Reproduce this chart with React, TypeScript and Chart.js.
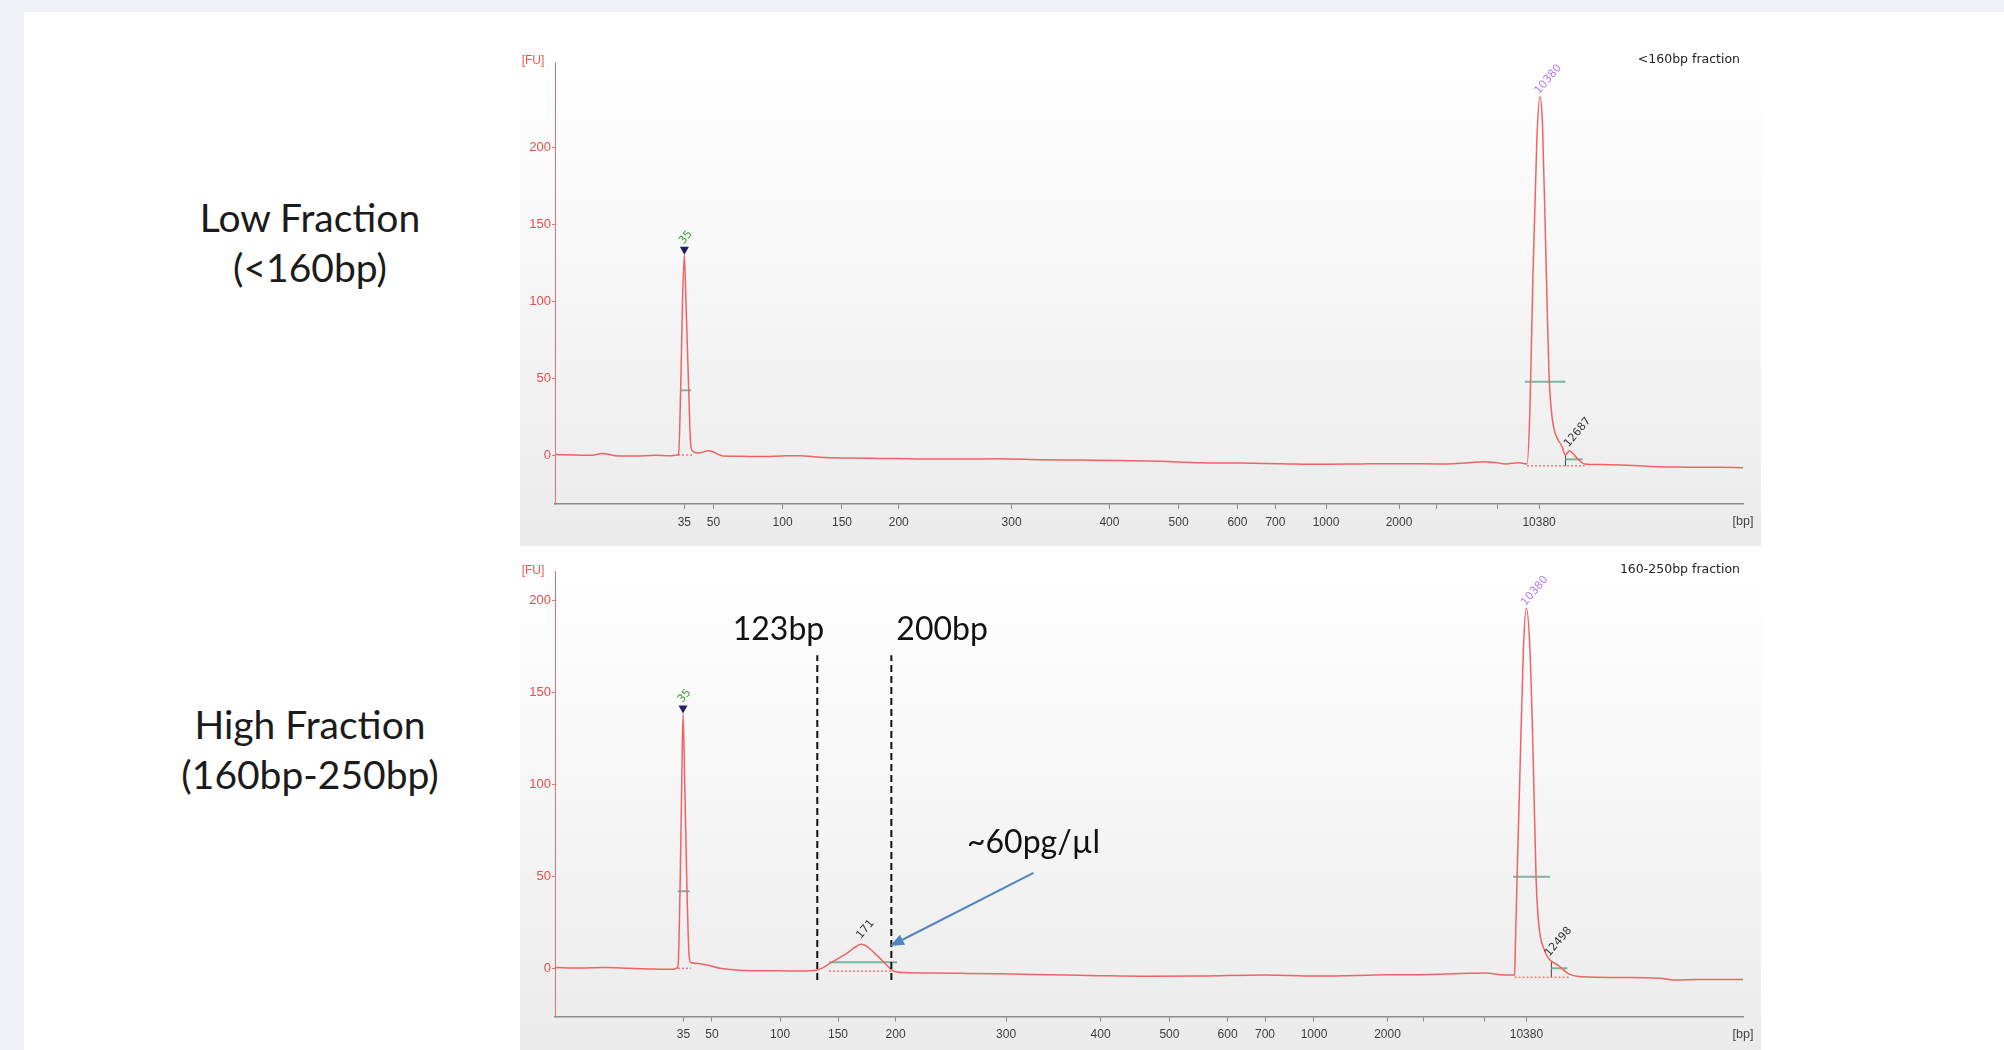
import React, { useEffect, useRef } from "react";
import { Chart, registerables } from "chart.js";

Chart.register(...registerables);

// ---------------- data ----------------
// Ladder (bp) shown on the x axis, placed at their migration times (s)
const LADDER_LABELS = ["35", "50", "100", "150", "200", "300", "400", "500", "600", "700", "1000", "2000", "", "", "10380"];
const LADDER_TIME_LOW = [49.8, 52.0, 57.24, 61.74, 66.04, 74.59, 82.0, 87.24, 91.7, 94.58, 98.41, 103.94, 106.78, 111.42, 114.55];
const LADDER_TIME_HIGH = [49.73, 51.89, 57.05, 61.44, 65.8, 74.17, 81.33, 86.55, 90.95, 93.79, 97.5, 103.07, 105.83, 110.38, 113.59];
const FU_TICKS = [0, 50, 100, 150, 200];

// Low fraction trace (time s, fluorescence FU)
const TIME_LOW = [40.0, 41.52, 42.65, 43.64, 44.55, 46.06, 47.58, 48.71, 49.24, 49.36, 49.52, 49.66, 49.8, 49.92, 50.13, 50.27, 50.38, 50.83, 51.67, 52.73, 54.02, 55.53, 57.2, 58.56, 60.08, 62.35, 64.62, 67.65, 70.68, 73.71, 76.74, 79.77, 82.8, 85.83, 88.86, 91.89, 94.92, 98.41, 100.98, 104.02, 107.05, 109.32, 110.3, 111.21, 112.05, 112.95, 113.64, 113.86, 114.09, 114.38, 114.61, 114.81, 115.1, 115.3, 115.49, 115.68, 115.98, 116.27, 116.55, 116.84, 117.12, 117.42, 118.0, 119.17, 120.76, 122.2, 123.64, 125.23, 126.52, 128.26, 130.0];
const FU_LOW = [0.3, 0.0, -0.2, 1.0, -0.4, -0.6, -0.2, -0.5, 0.0, 0.5, 42, 100, 130, 100, 42, 8, 3, 1.3, 2.8, -0.6, -0.8, -1.0, -0.6, -0.4, -1.5, -2.0, -2.2, -2.5, -2.6, -2.4, -3.0, -3.3, -3.6, -4.0, -5.0, -5.2, -5.6, -6.0, -5.8, -5.6, -5.8, -5.0, -4.3, -4.8, -5.8, -5.0, -5.8, 30, 118, 204, 232.7, 215, 118, 53, 28, 17, 10, 6, 0.0, 2.8, 1, -2, -5.8, -6.2, -6.5, -7.0, -7.6, -7.8, -8.0, -8.0, -8.2];

// High fraction trace
const TIME_HIGH = [40.0, 41.89, 43.79, 45.64, 47.2, 49.02, 49.17, 49.32, 49.47, 49.6, 49.7, 49.83, 50.0, 50.15, 50.3, 50.76, 51.52, 52.5, 54.02, 56.29, 58.56, 59.85, 60.83, 62.1, 63.23, 64.37, 65.38, 65.61, 66.52, 68.41, 70.68, 73.71, 77.5, 81.29, 85.08, 88.86, 93.79, 97.58, 103.07, 106.26, 109.17, 110.38, 112.05, 112.7, 112.75, 112.87, 113.08, 113.36, 113.59, 113.86, 114.09, 114.32, 114.52, 114.95, 115.39, 115.97, 116.84, 117.86, 120.76, 123.65, 125.08, 126.55, 130.0];
const FU_HIGH = [0.5, 0.2, 0.4, 0.0, -0.3, -0.5, 0.0, 1.0, 42, 100, 138.7, 100, 42, 8, 3, 2.7, 1.8, 0.0, -1.0, -1.3, -1.5, -0.9, 2.7, 8.2, 13.1, 7.2, 0.0, -1.3, -2.3, -2.5, -2.7, -3.0, -3.5, -4.0, -4.3, -4.2, -3.6, -4.2, -3.5, -3.3, -2.7, -2.5, -3.6, -3.6, 10, 46, 100.6, 173, 195.9, 173, 118.8, 49.8, 24.5, 10, 4.5, 1.8, -3.1, -4.6, -5.0, -5.4, -6.4, -6.0, -6.0];

// Peaks
const PEAK_TIME_LOW = [49.8, 114.61, 116.84];
const PEAK_FU_LOW = [130, 232.7, 2.8];
const PEAK_NAME_LOW = ["35", "10380", "12687"];
const PEAK_KIND_LOW = ["lower", "upper", "sample"];

const PEAK_TIME_HIGH = [49.7, 63.23, 113.59, 115.39];
const PEAK_FU_HIGH = [138.7, 13.1, 195.9, 4.5];
const PEAK_NAME_HIGH = ["35", "171", "10380", "12498"];
const PEAK_KIND_HIGH = ["lower", "sample", "upper", "sample"];

// Peak width bars (start time, end time, FU)
const WIDTH_START_LOW = [49.47, 113.48, 116.55];
const WIDTH_END_LOW = [50.3, 116.55, 117.86];
const WIDTH_FU_LOW = [42, 47.6, -2.8];
const WIDTH_START_HIGH = [49.3, 60.76, 112.58, 115.48];
const WIDTH_END_HIGH = [50.2, 65.91, 115.38, 116.7];
const WIDTH_FU_HIGH = [42, 3.3, 49.8, 0.0];

// Integration baselines
const BASE_START_LOW = [49.32, 113.64];
const BASE_END_LOW = [50.38, 118.0];
const BASE_FU_LOW = [0, -7.0];
const BASE_START_HIGH = [49.32, 60.76, 112.7];
const BASE_END_HIGH = [50.3, 65.61, 116.84];
const BASE_FU_HIGH = [0, -1.5, -4.9];

// Peak split lines
const SPLIT_TIME_LOW = [116.55];
const SPLIT_FROM_LOW = [-7.0];
const SPLIT_TO_LOW = [0.0];
const SPLIT_TIME_HIGH = [115.48];
const SPLIT_FROM_HIGH = [-4.9];
const SPLIT_TO_HIGH = [3.9];

// Size-selection gates on the high fraction
const GATE_TIME = [59.87, 65.48];
const GATE_LABEL = ["123bp", "200bp"];
const GATE_FU_FROM = -6.4;
const GATE_FU_TO = 170.4;
const GATE_LABEL_FU = 184;

const NOTE_TEXT = "~60pg/µl";
const NOTE_TIME = 76.25;
const NOTE_FU = 68.2;
const ARROW_FROM_TIME = 76.25;
const ARROW_FROM_FU = 52.0;
const ARROW_TO_TIME = 65.38;
const ARROW_TO_FU = 12.1;

// ---------------- drawing ----------------
const TRACE = "rgb(241,98,98)";
const AXIS_RED = "rgb(242,110,110)";
const SMALL_FONT = "'Liberation Sans', Arial, sans-serif";

type Spec = {
  title: string;
  time: number[];
  fu: number[];
  ladder: number[];
  yMin: number;
  yMax: number;
  padTop: number;
  xHeight: number;
  peakT: number[];
  peakF: number[];
  peakN: string[];
  peakK: string[];
  wS: number[];
  wE: number[];
  wF: number[];
  bS: number[];
  bE: number[];
  bF: number[];
  sT: number[];
  sFrom: number[];
  sTo: number[];
  gates: boolean;
};

function seg(x0: number, x1: number, y0: number, y1: number, color: string, width: number, dash: number[] = []) {
  return {
    type: "line" as const,
    data: [
      { x: x0, y: y0 },
      { x: x1, y: y1 },
    ],
    borderColor: color,
    borderWidth: width,
    borderDash: dash,
    pointRadius: 0,
    tension: 0,
  };
}

function makePlugin(spec: Spec) {
  return {
    id: "decor",
    beforeDraw(chart: any) {
      const { ctx, width, height } = chart;
      const g = ctx.createLinearGradient(0, 0, 0, height);
      g.addColorStop(0, "#ffffff");
      g.addColorStop(0.35, "#f9f9f9");
      g.addColorStop(1, "#ebebeb");
      ctx.save();
      ctx.fillStyle = g;
      ctx.fillRect(0, 0, width, height);
      ctx.restore();
    },
    afterDatasetsDraw(chart: any) {
      const { ctx, chartArea } = chart;
      const xs = chart.scales.x;
      const ys = chart.scales.y;
      ctx.save();
      // axis units and title
      ctx.font = `12px ${SMALL_FONT}`;
      ctx.textBaseline = "middle";
      ctx.fillStyle = "rgb(235,85,85)";
      ctx.textAlign = "center";
      ctx.fillText("[FU]", chartArea.left - 22, chartArea.top - 1);
      ctx.fillStyle = "#444";
      ctx.font = `12.5px ${SMALL_FONT}`;
      ctx.fillText("[bp]", chartArea.right, chartArea.bottom + 18);
      ctx.textAlign = "right";
      ctx.fillStyle = "#222";
      ctx.font = `12.5px 'DejaVu Sans', sans-serif`;
      ctx.fillText(spec.title, chartArea.right - 3, chartArea.top - 2);

      // peak labels
      spec.peakT.forEach((t, i) => {
        const px = xs.getPixelForValue(t);
        const py = ys.getPixelForValue(spec.peakF[i]);
        const kind = spec.peakK[i];
        let color = "#333";
        let lift = 5;
        if (kind === "lower") {
          ctx.fillStyle = "#1d1f6e";
          ctx.beginPath();
          ctx.moveTo(px - 4.5, py - 8);
          ctx.lineTo(px + 4.5, py - 8);
          ctx.lineTo(px, py);
          ctx.closePath();
          ctx.fill();
          color = "#3c9c3c";
          lift = 12;
        } else if (kind === "upper") {
          color = "#b27cf2";
          lift = 4;
        } else if (spec.peakN[i] === "171") {
          lift = 7;
        }
        ctx.save();
        ctx.translate(px - 3, py - lift);
        ctx.rotate(-Math.PI / 4 - 0.08);
        ctx.font = `11px 'DejaVu Sans', sans-serif`;
        ctx.fillStyle = color;
        ctx.textAlign = "left";
        ctx.textBaseline = "middle";
        ctx.fillText(spec.peakN[i], 0, 0);
        ctx.restore();
      });

      if (spec.gates) {
        ctx.font = "32px Lato, 'Open Sans', sans-serif";
        ctx.fillStyle = "#111";
        ctx.textBaseline = "middle";
        GATE_TIME.forEach((t, i) => {
          const gx = xs.getPixelForValue(t);
          const gy = ys.getPixelForValue(GATE_LABEL_FU);
          if (i === 0) {
            ctx.textAlign = "right";
            ctx.fillText(GATE_LABEL[i], gx + 7, gy);
          } else {
            ctx.textAlign = "left";
            ctx.fillText(GATE_LABEL[i], gx + 5, gy);
          }
        });
        ctx.textAlign = "center";
        ctx.fillText(NOTE_TEXT, xs.getPixelForValue(NOTE_TIME), ys.getPixelForValue(NOTE_FU));

        // arrow
        const ax0 = xs.getPixelForValue(ARROW_FROM_TIME);
        const ay0 = ys.getPixelForValue(ARROW_FROM_FU);
        const ax1 = xs.getPixelForValue(ARROW_TO_TIME);
        const ay1 = ys.getPixelForValue(ARROW_TO_FU);
        const ang = Math.atan2(ay1 - ay0, ax1 - ax0);
        const head = 14;
        const bx = ax1 - Math.cos(ang) * head;
        const by = ay1 - Math.sin(ang) * head;
        ctx.strokeStyle = "#5384c0";
        ctx.fillStyle = "#5384c0";
        ctx.lineWidth = 2;
        ctx.beginPath();
        ctx.moveTo(ax0, ay0);
        ctx.lineTo(bx, by);
        ctx.stroke();
        ctx.beginPath();
        ctx.moveTo(ax1, ay1);
        ctx.lineTo(bx + Math.sin(ang) * 5.5, by - Math.cos(ang) * 5.5);
        ctx.lineTo(bx - Math.sin(ang) * 5.5, by + Math.cos(ang) * 5.5);
        ctx.closePath();
        ctx.fill();
      }
      ctx.restore();
    },
  };
}

function Panel({ spec, left, top, width, height }: { spec: Spec; left: number; top: number; width: number; height: number }) {
  const ref = useRef<HTMLCanvasElement | null>(null);
  useEffect(() => {
    if (!ref.current) return;
    const datasets: any[] = [];
    if (spec.gates) {
      GATE_TIME.forEach((t) => datasets.push(seg(t, t, GATE_FU_FROM, GATE_FU_TO, "#111", 2, [7, 4])));
    }
    datasets.push({
      type: "line",
      data: spec.time.map((t, i) => ({ x: t, y: spec.fu[i] })),
      borderColor: TRACE,
      borderWidth: 1.5,
      pointRadius: 0,
      cubicInterpolationMode: "monotone",
    });
    spec.wS.forEach((s, i) => datasets.push(seg(s, spec.wE[i], spec.wF[i], spec.wF[i], "rgba(110,175,150,0.9)", 2)));
    spec.bS.forEach((s, i) => datasets.push(seg(s, spec.bE[i], spec.bF[i], spec.bF[i], "rgba(240,110,110,0.9)", 1.5, [2, 2])));
    spec.sT.forEach((t, i) => datasets.push(seg(t, t, spec.sFrom[i], spec.sTo[i], "#444", 1)));

    const chart = new Chart(ref.current, {
      type: "line",
      data: { datasets },
      plugins: [makePlugin(spec)],
      options: {
        responsive: false,
        animation: false,
        events: [],
        layout: { padding: { left: 0, right: 18, top: spec.padTop, bottom: 0 } },
        plugins: { legend: { display: false }, tooltip: { enabled: false } },
        scales: {
          x: {
            type: "linear",
            min: 40,
            max: 130,
            afterBuildTicks: (s: any) => {
              s.ticks = spec.ladder.map((v) => ({ value: v }));
            },
            afterFit: (s: any) => {
              s.height = spec.xHeight;
            },
            ticks: {
              autoSkip: false,
              maxRotation: 0,
              minRotation: 0,
              padding: 6,
              color: "#3c3c3c",
              font: { size: 12, family: SMALL_FONT },
              callback: (_v: any, i: number) => LADDER_LABELS[i],
            },
            grid: { drawOnChartArea: false, drawTicks: true, tickLength: 5, color: "#8c8c8c" },
            border: { display: true, color: "#8c8c8c", width: 1.5 },
          },
          y: {
            type: "linear",
            min: spec.yMin,
            max: spec.yMax,
            afterBuildTicks: (s: any) => {
              s.ticks = FU_TICKS.map((v) => ({ value: v }));
            },
            afterFit: (s: any) => {
              s.width = 35;
            },
            ticks: {
              padding: 1,
              color: "rgb(232,75,75)",
              font: { size: 13, family: SMALL_FONT },
            },
            grid: { drawOnChartArea: false, drawTicks: true, tickLength: 3, color: AXIS_RED },
            border: { display: true, color: AXIS_RED, width: 1 },
          },
        },
      } as any,
    });
    return () => chart.destroy();
  }, [spec]);
  return (
    <canvas
      ref={ref}
      width={width}
      height={height}
      style={{ position: "absolute", left, top, width, height }}
    />
  );
}

const LOW_SPEC: Spec = {
  title: "<160bp fraction",
  time: TIME_LOW,
  fu: FU_LOW,
  ladder: LADDER_TIME_LOW,
  yMin: -31.8,
  yMax: 255.2,
  padTop: 13,
  xHeight: 42,
  peakT: PEAK_TIME_LOW,
  peakF: PEAK_FU_LOW,
  peakN: PEAK_NAME_LOW,
  peakK: PEAK_KIND_LOW,
  wS: WIDTH_START_LOW,
  wE: WIDTH_END_LOW,
  wF: WIDTH_FU_LOW,
  bS: BASE_START_LOW,
  bE: BASE_END_LOW,
  bF: BASE_FU_LOW,
  sT: SPLIT_TIME_LOW,
  sFrom: SPLIT_FROM_LOW,
  sTo: SPLIT_TO_LOW,
  gates: false,
};

const HIGH_SPEC: Spec = {
  title: "160-250bp fraction",
  time: TIME_HIGH,
  fu: FU_HIGH,
  ladder: LADDER_TIME_HIGH,
  yMin: -26.3,
  yMax: 215.8,
  padTop: 19.7,
  xHeight: 33.3,
  peakT: PEAK_TIME_HIGH,
  peakF: PEAK_FU_HIGH,
  peakN: PEAK_NAME_HIGH,
  peakK: PEAK_KIND_HIGH,
  wS: WIDTH_START_HIGH,
  wE: WIDTH_END_HIGH,
  wF: WIDTH_FU_HIGH,
  bS: BASE_START_HIGH,
  bE: BASE_END_HIGH,
  bF: BASE_FU_HIGH,
  sT: SPLIT_TIME_HIGH,
  sFrom: SPLIT_FROM_HIGH,
  sTo: SPLIT_TO_HIGH,
  gates: true,
};

const labelStyle: React.CSSProperties = {
  position: "absolute",
  left: 110,
  width: 400,
  textAlign: "center",
  fontFamily: "Lato, 'Open Sans', sans-serif",
  fontSize: 39,
  lineHeight: "50px",
  color: "#1b1b1b",
};

export default function App() {
  return (
    <div
      style={{
        position: "absolute",
        left: 0,
        top: 0,
        width: 2004,
        height: 1050,
        overflow: "hidden",
        background: "#eff1f6",
      }}
    >
      <div style={{ position: "absolute", left: 24, top: 12, right: 0, bottom: 0, background: "#ffffff" }} />
      <div style={{ ...labelStyle, top: 192 }}>
        Low Fraction
        <br />
        (&lt;160bp)
      </div>
      <div style={{ ...labelStyle, top: 699 }}>
        High Fraction
        <br />
        (160bp-250bp)
      </div>
      <Panel spec={LOW_SPEC} left={520} top={49} width={1241} height={497} />
      <Panel spec={HIGH_SPEC} left={520} top={552} width={1241} height={498} />
    </div>
  );
}
